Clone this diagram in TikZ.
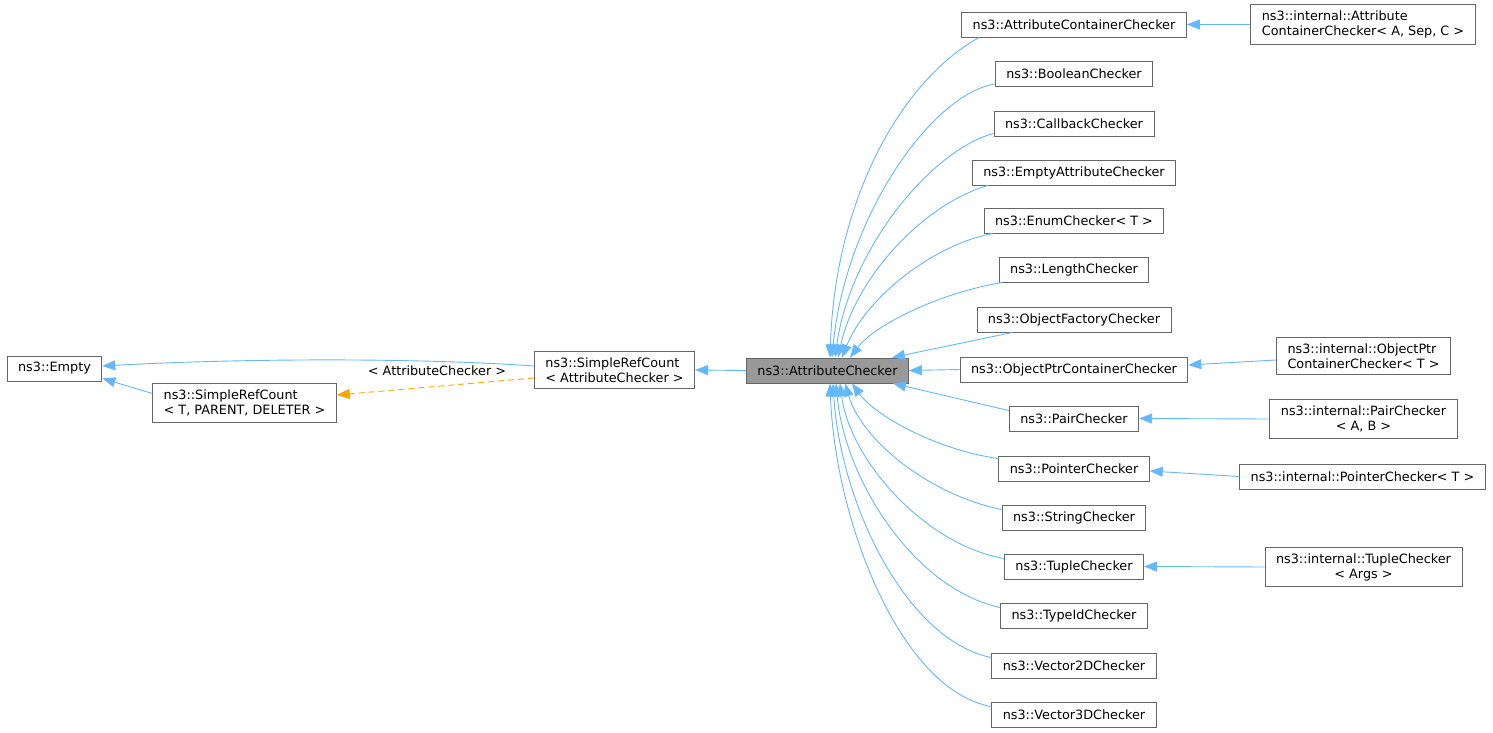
\documentclass[tikz,border=0pt]{standalone}
\usepackage{fontspec}
\setmainfont{DejaVu Sans}
\usepackage{tikz}
\usetikzlibrary{arrows.meta,positioning,calc}
\definecolor{edgeblue}{HTML}{63B8FF}
\definecolor{tmplorange}{HTML}{FFA500}
\definecolor{boxline}{HTML}{666666}
\definecolor{boxfill}{HTML}{999999}
\tikzstyle{klass}=[draw=boxline,rectangle,line width=0.9pt,inner xsep=11pt,inner ysep=6pt,minimum height=25pt,font=\fontsize{12.8}{15}\selectfont]
\tikzstyle{current}=[klass,fill=boxfill]
\tikzstyle{inherit}=[draw=edgeblue,line width=0.9pt,-{Triangle[length=13pt,width=10pt,fill=edgeblue]}]
\tikzstyle{tmpl}=[draw=tmplorange,line width=0.9pt,dashed,dash pattern=on 6pt off 4pt,-{Triangle[length=13pt,width=10pt,fill=tmplorange]}]

\begin{document}
\begin{tikzpicture}[x=1pt,y=1pt]
    \useasboundingbox (0,0) rectangle (1493,-733);
    \node [klass] (empty) at (54.5,-368.5) {ns3::Empty};
    \node [klass,align=left] (srt) at (244.5,-403) {ns3::SimpleRefCount\\< T, PARENT, DELETER >};
    \node [klass,align=left] (srcac) at (614.5,-370) {ns3::SimpleRefCount\\< AttributeChecker >};
    \node [current] (ac) at (827.5,-370.5) {ns3::AttributeChecker};
    \node [klass] (acc) at (1074,-24.5) {ns3::AttributeContainerChecker};
    \node [klass] (bool) at (1074,-74) {ns3::BooleanChecker};
    \node [klass] (cb) at (1074,-123.5) {ns3::CallbackChecker};
    \node [klass] (eac) at (1074,-172.5) {ns3::EmptyAttributeChecker};
    \node [klass] (enum) at (1074,-220.5) {ns3::EnumChecker< T >};
    \node [klass] (len) at (1074,-269.5) {ns3::LengthChecker};
    \node [klass] (ofc) at (1074,-319.5) {ns3::ObjectFactoryChecker};
    \node [klass] (opcc) at (1074,-369.5) {ns3::ObjectPtrContainerChecker};
    \node [klass] (pair) at (1074,-418.5) {ns3::PairChecker};
    \node [klass] (ptr) at (1074,-468.5) {ns3::PointerChecker};
    \node [klass] (str) at (1074,-517.5) {ns3::StringChecker};
    \node [klass] (tuple) at (1074,-566.5) {ns3::TupleChecker};
    \node [klass] (tid) at (1074,-615.5) {ns3::TypeIdChecker};
    \node [klass] (vtwo) at (1074,-665.5) {ns3::Vector2DChecker};
    \node [klass] (vthree) at (1074,-714.5) {ns3::Vector3DChecker};
    \node [klass,align=left] (iacc) at (1363,-24.5) {ns3::internal::Attribute\\ContainerChecker< A, Sep, C >};
    \node [klass,align=left] (iopcc) at (1363.5,-356) {ns3::internal::ObjectPtr\\ContainerChecker< T >};
    \node [klass,align=center] (ipair) at (1363.5,-419) {ns3::internal::PairChecker\\< A, B >};
    \node [klass] (iptr) at (1362.5,-476.5) {ns3::internal::PointerChecker< T >};
    \node [klass,align=center] (ituple) at (1363.5,-567) {ns3::internal::TupleChecker\\< Args >};
    \node [font=\fontsize{12.8}{15}\selectfont] (lbl) at (437,-371) {< AttributeChecker >};

    \draw [inherit] ([yshift=4pt]srcac.west) .. controls +(-113,8) and +(147,8) .. ([yshift=2.5pt]empty.east);
    \draw [inherit] ([yshift=-10pt]srt.north west) -- ([yshift=3pt]empty.south east);
    \draw [tmpl] ([yshift=-8pt]srcac.west) -- ([yshift=8pt]srt.east);
    \draw [inherit] (ac.west) -- (srcac.east);

    \draw [inherit] ([xshift=18pt]acc.south west) .. controls +(-78,-43) and +(5,158) .. ([xshift=2.5pt]ac.north);
    \draw [inherit] ([yshift=3pt]bool.south west) .. controls +(-65,-11) and +(13,138) .. ([xshift=4.5pt]ac.north);
    \draw [inherit] ([yshift=3pt]cb.south west) .. controls +(-63,-17) and +(15,108) .. ([xshift=7.5pt]ac.north);
    \draw [inherit] ([xshift=16pt]eac.south west) .. controls +(-67,-20) and +(17,78) .. ([xshift=10.5pt]ac.north);
    \draw [inherit] ([xshift=9pt]enum.south west) .. controls +(-62,-12) and +(23,58) .. ([xshift=14.5pt]ac.north);
    \draw [inherit] ([xshift=4pt]len.south west) .. controls +(-62,-10) and +(25,33) .. ([xshift=22.5pt]ac.north);
    \draw [inherit] ([xshift=36pt]ofc.south west) -- ([xshift=64.5pt]ac.north);
    \draw [inherit] (opcc.west) -- (ac.east);
    \draw [inherit] ([yshift=-5pt]pair.north west) -- ([xshift=65.5pt]ac.south);
    \draw [inherit] ([yshift=-3pt]ptr.north west) .. controls +(-63,9) and +(23,-32) .. ([xshift=24.5pt]ac.south);
    \draw [inherit] ([yshift=-5pt]str.north west) .. controls +(-73,15) and +(17,-57) .. ([xshift=17.5pt]ac.south);
    \draw [inherit] ([yshift=-5pt]tuple.north west) .. controls +(-79,14) and +(10,-77) .. ([xshift=12.5pt]ac.south);
    \draw [inherit] ([yshift=-5pt]tid.north west) .. controls +(-86,19) and +(9,-97) .. ([xshift=8.5pt]ac.south);
    \draw [inherit] ([yshift=-5pt]vtwo.north west) .. controls +(-87,18) and +(7,-117) .. ([xshift=5.5pt]ac.south);
    \draw [inherit] ([yshift=-5pt]vthree.north west) .. controls +(-91,16) and +(5,-137) .. ([xshift=2.5pt]ac.south);

    \draw [inherit] (iacc.west) -- (acc.east);
    \draw [inherit] ([yshift=-4pt]iopcc.west) -- ([yshift=4.5pt]opcc.east);
    \draw [inherit] (ipair.west) -- (pair.east);
    \draw [inherit] (iptr.west) -- ([yshift=-2.5pt]ptr.east);
    \draw [inherit] (ituple.west) -- (tuple.east);
  \end{tikzpicture}
\end{document}
